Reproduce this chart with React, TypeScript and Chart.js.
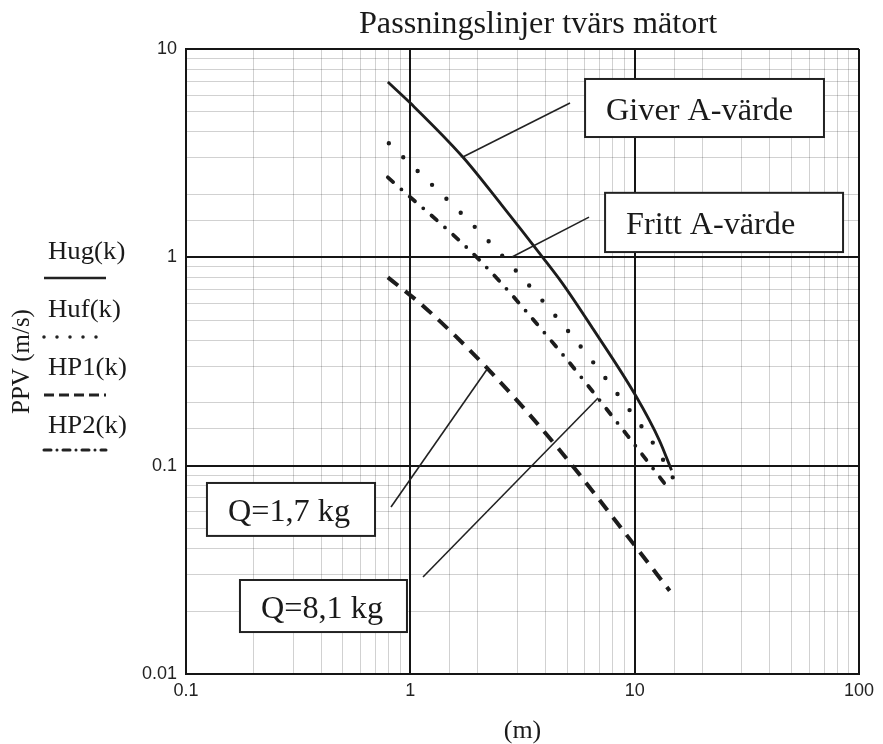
import React, { useEffect, useRef } from 'react';
import { Chart, registerables } from 'chart.js';

Chart.register(...registerables);

// ---------- text ----------
const TITLE = 'Passningslinjer tvärs mätort';
const X_TITLE = '(m)';
const Y_TITLE = 'PPV (m/s)';

// ---------- axes ----------
const X_MIN = 0.1;
const X_MAX = 100;
const Y_MIN = 0.01;
const Y_MAX = 10;
const X_TICK_LABELS = ['0.1', '1', '10', '100'];
const Y_TICK_LABELS = ['0.01', '0.1', '1', '10'];

// ---------- series (distance m, PPV m/s) ----------
const hugX = [0.794, 1.0, 1.714, 2.556, 3.89, 4.73, 6.5, 10.1, 12.9, 14.6];
const hugY = [6.94, 5.5, 3.03, 1.78, 1.0, 0.758, 0.456, 0.217, 0.132, 0.095];

const hufX = [0.802, 2.17, 4.73, 9.31, 12.53, 14.8];
const hufY = [3.53, 1.234, 0.482, 0.19, 0.1207, 0.0876];

const hp1X = [0.794, 1.16, 2.21, 4.54, 9.8, 14.32];
const hp1Y = [0.801, 0.575, 0.2925, 0.122, 0.0426, 0.0251];

const hp2X = [0.794, 2.04, 4.54, 9.31, 14.17];
const hp2Y = [2.42, 0.967, 0.365, 0.139, 0.0775];

const SERIES_LABELS = ['Hug(k)', 'Huf(k)', 'HP1(k)', 'HP2(k)'];

// ---------- annotations (data coordinates) ----------
const NOTE_TEXTS = ['Giver A-värde', 'Fritt A-värde', 'Q=1,7 kg', 'Q=8,1 kg'];
// box: [xLeft, xRight, yTop, yBottom]
const NOTE_BOXES = [
  [6.01, 69.8, 7.18, 3.78],
  [7.38, 84.9, 2.04, 1.06],
  [0.124, 0.696, 0.0826, 0.046],
  [0.174, 0.966, 0.02826, 0.0159],
];
// pointer: [x1, y1, x2, y2]
const NOTE_POINTERS = [
  [1.714, 3.03, 5.15, 5.51],
  [2.84, 1.004, 6.26, 1.56],
  [2.21, 0.2925, 0.82, 0.0633],
  [6.87, 0.2113, 1.139, 0.0292],
];

// ---------- styles ----------
const SERIF = '"Liberation Serif", "Times New Roman", serif';
const SANS = '"Liberation Sans", Arial, sans-serif';
const STYLES = [
  { width: 2.8, dash: [] as number[], cap: 'butt' as CanvasLineCap },
  { width: 4.4, dash: [0, 20], cap: 'round' as CanvasLineCap },
  { width: 4, dash: [13, 9], cap: 'butt' as CanvasLineCap },
  { width: 3.8, dash: [7, 11, 0, 11], cap: 'round' as CanvasLineCap },
];

const isMajor = (v: number | undefined) => {
  if (v === undefined || v <= 0) return false;
  const l = Math.log10(v);
  return Math.abs(l - Math.round(l)) < 1e-6;
};

const labelFor = (labels: string[], v: number) => {
  const hit = labels.find((l) => Math.abs(parseFloat(l) - v) < 1e-6 * Math.max(1, v));
  return hit === undefined ? '' : hit;
};

function drawText(
  ctx: CanvasRenderingContext2D,
  text: string,
  x: number,
  y: number,
  size: number,
  align: CanvasTextAlign = 'left',
  sx = 1
) {
  ctx.save();
  ctx.font = `${size}px ${SERIF}`;
  ctx.fillStyle = '#1a1a1a';
  ctx.textBaseline = 'alphabetic';
  ctx.textAlign = align;
  ctx.translate(x, y);
  ctx.scale(sx, 1);
  ctx.fillText(text, 0, 0);
  ctx.restore();
}

const decorPlugin = {
  id: 'decor',
  afterDatasetsDraw(chart: any) {
    const { ctx } = chart;
    const xs = chart.scales.x;
    const ys = chart.scales.y;
    ctx.save();
    NOTE_POINTERS.forEach((p) => {
      ctx.beginPath();
      ctx.strokeStyle = '#222';
      ctx.lineWidth = 1.6;
      ctx.moveTo(xs.getPixelForValue(p[0]), ys.getPixelForValue(p[1]));
      ctx.lineTo(xs.getPixelForValue(p[2]), ys.getPixelForValue(p[3]));
      ctx.stroke();
    });
    NOTE_BOXES.forEach((b, i) => {
      const l = xs.getPixelForValue(b[0]);
      const r = xs.getPixelForValue(b[1]);
      const t = ys.getPixelForValue(b[2]);
      const bt = ys.getPixelForValue(b[3]);
      ctx.fillStyle = '#fff';
      ctx.fillRect(l, t, r - l, bt - t);
      ctx.strokeStyle = '#222';
      ctx.lineWidth = 2;
      ctx.strokeRect(l, t, r - l, bt - t);
      drawText(ctx, NOTE_TEXTS[i], l + 21, (t + bt) / 2 + 12, 31, 'left', 1.04);
    });
    ctx.restore();
  },
  afterDraw(chart: any) {
    const { ctx } = chart;
    ctx.save();
    drawText(ctx, TITLE, 538, 33, 31, 'center', 1.04);
    const textY = [259, 317, 375, 433];
    const lineY = [278, 337, 395, 450];
    SERIES_LABELS.forEach((lab, i) => {
      drawText(ctx, lab, 48, textY[i], 26, 'left', 1.03);
      const s = STYLES[i];
      ctx.beginPath();
      ctx.strokeStyle = '#222';
      ctx.lineWidth = i === 0 ? 2.6 : s.width * 0.8;
      ctx.lineCap = s.cap;
      ctx.setLineDash(i === 1 ? [0, 13] : i === 2 ? [10, 5] : i === 3 ? [7, 6, 0, 6] : []);
      ctx.moveTo(44, lineY[i]);
      ctx.lineTo(106, lineY[i]);
      ctx.stroke();
    });
    ctx.restore();
  },
};

function buildData() {
  const xsAll = [hugX, hufX, hp1X, hp2X];
  const ysAll = [hugY, hufY, hp1Y, hp2Y];
  return {
    datasets: SERIES_LABELS.map((label, i) => ({
      label,
      data: xsAll[i].map((x, k) => ({ x, y: ysAll[i][k] })),
      borderColor: '#1c1c1c',
      backgroundColor: '#1c1c1c',
      borderWidth: STYLES[i].width,
      borderDash: STYLES[i].dash,
      borderCapStyle: STYLES[i].cap,
      pointRadius: 0,
      fill: false,
      cubicInterpolationMode: 'monotone' as const,
    })),
  };
}

export default function App() {
  const canvasRef = useRef<HTMLCanvasElement | null>(null);

  useEffect(() => {
    const canvas = canvasRef.current;
    if (!canvas) return;
    const gridColor = (c: any) => (isMajor(c.tick?.value) ? '#151515' : 'rgba(0,0,0,0.18)');
    const gridWidth = (c: any) => (isMajor(c.tick?.value) ? 2 : 1);
    const chart = new Chart(canvas, {
      type: 'line',
      data: buildData() as any,
      options: {
        responsive: false,
        animation: false,
        layout: { padding: { top: 49, right: 24, bottom: 0, left: 0 } },
        plugins: {
          legend: { display: false },
          title: { display: false },
          tooltip: { enabled: false },
        },
        scales: {
          x: {
            type: 'logarithmic',
            min: X_MIN,
            max: X_MAX,
            afterFit: (s: any) => {
              s.height = 70;
            },
            grid: { drawTicks: false, color: gridColor, lineWidth: gridWidth },
            border: { color: '#151515', width: 2 },
            ticks: {
              autoSkip: false,
              maxRotation: 0,
              minRotation: 0,
              padding: 6,
              color: '#222',
              font: { family: SANS, size: 18 },
              callback: (v: any) => labelFor(X_TICK_LABELS, Number(v)),
            },
            title: {
              display: true,
              text: X_TITLE,
              color: '#1a1a1a',
              font: { family: SERIF, size: 26, lineHeight: 1 },
              padding: 0,
            },
          },
          y: {
            type: 'logarithmic',
            min: Y_MIN,
            max: Y_MAX,
            afterFit: (s: any) => {
              s.width = 186;
            },
            grid: { drawTicks: false, color: gridColor, lineWidth: gridWidth },
            border: { color: '#151515', width: 2 },
            ticks: {
              autoSkip: false,
              padding: 9,
              color: '#222',
              font: { family: SANS, size: 18 },
              callback: (v: any) => labelFor(Y_TICK_LABELS, Number(v)),
            },
            title: {
              display: true,
              text: Y_TITLE,
              color: '#1a1a1a',
              font: { family: SERIF, size: 25, lineHeight: 1.2 },
              padding: { top: 7, bottom: 0 },
            },
          },
        },
      } as any,
      plugins: [decorPlugin],
    });
    return () => chart.destroy();
  }, []);

  return (
    <div style={{ position: 'fixed', left: 0, top: 0, width: 883, height: 744, background: '#fff' }}>
      <canvas ref={canvasRef} width={883} height={744} />
    </div>
  );
}
